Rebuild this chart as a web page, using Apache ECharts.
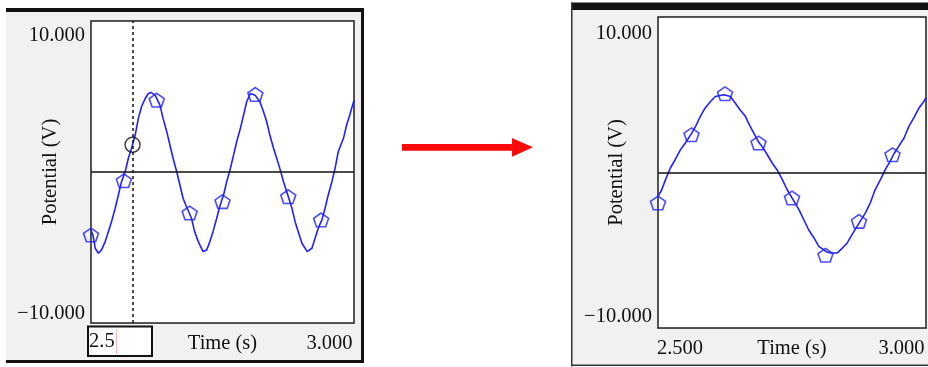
<!DOCTYPE html>
<html>
<head>
<meta charset="utf-8">
<script src="https://cdn.jsdelivr.net/npm/echarts@6.0.0/dist/echarts.min.js"></script>
<style>
html,body{margin:0;padding:0;background:#fff;}
#chart{width:928px;height:367px;}
</style>
</head>
<body>
<div id="chart"></div>
<script>
// ---- data ----
const xTickMin = 2.5, xTickMax = 3.0, xInterval = 0.1;
const yTickMin = -10, yTickMax = 10, yInterval = 5;
const yLabelMax = '10.000', yLabelMin = '\u221210.000';
const xLabelMin = '2.500', xLabelMax = '3.000';
const xName = 'Time (s)', yName = 'Potential (V)';
const inputText = '2.5';

const leftTime = [2.500,2.504,2.508,2.514,2.520,2.527,2.533,2.539,2.546,2.552,2.558,2.565,2.571,2.577,2.584,2.590,2.596,2.603,2.609,2.614,2.622,2.631,2.637,2.644,2.650,2.656,2.663,2.669,2.675,2.681,2.687,2.691,2.697,2.704,2.713,2.720,2.726,2.732,2.739,2.745,2.752,2.758,2.765,2.771,2.777,2.784,2.790,2.796,2.803,2.812,2.821,2.828,2.834,2.840,2.847,2.853,2.859,2.866,2.875,2.882,2.888,2.894,2.901,2.911,2.920,2.926,2.932,2.939,2.945,2.951,2.958,2.964,2.970,2.980,2.986,2.992,3.000];
const leftVolt = [-3.84,-4.23,-5.05,-5.38,-5.16,-4.61,-3.95,-3.29,-2.40,-1.52,-0.64,0.02,0.91,1.57,2.45,3.55,4.32,4.87,5.20,5.27,5.09,4.43,3.55,2.67,1.79,0.91,0.02,-0.86,-1.74,-2.25,-2.73,-3.06,-3.95,-4.61,-5.27,-5.16,-4.61,-3.95,-3.06,-2.25,-1.52,-0.64,0.24,1.12,2.00,2.89,3.77,4.65,5.20,5.09,4.65,3.99,3.33,2.45,1.57,0.91,0.24,-0.64,-1.63,-2.40,-3.29,-3.95,-4.72,-5.27,-5.05,-4.39,-3.72,-3.17,-2.40,-1.52,-0.64,0.24,1.34,2.23,3.11,3.77,4.76];
const leftMarkTime = [2.5,2.5625,2.625,2.6875,2.75,2.8125,2.875,2.9375];
const leftMarkVolt = [-4.17,-0.58,4.76,-2.71,-1.96,5.14,-1.63,-3.17];
const cursorTime = 2.579;
const cursorVolt = 1.8;

const rightTime = [2.500,2.507,2.514,2.523,2.532,2.542,2.551,2.562,2.570,2.579,2.588,2.598,2.607,2.623,2.635,2.644,2.653,2.663,2.672,2.688,2.694,2.704,2.713,2.722,2.732,2.741,2.747,2.763,2.772,2.781,2.791,2.800,2.814,2.822,2.834,2.844,2.853,2.862,2.876,2.887,2.896,2.905,2.915,2.924,2.933,2.940,2.949,2.959,2.968,2.977,2.987,2.996,3.000];
const rightVolt = [-1.54,-1.11,-0.46,0.29,0.82,1.47,1.90,2.48,2.96,3.61,4.15,4.57,4.89,5.00,4.89,4.47,4.04,3.61,2.96,1.94,1.68,1.14,0.61,0.18,-0.46,-1.11,-1.46,-2.39,-3.04,-3.68,-4.21,-4.75,-5.09,-5.18,-5.18,-4.86,-4.53,-4.00,-3.21,-2.60,-1.96,-1.11,-0.46,0.18,0.71,1.19,1.68,2.22,2.96,3.50,4.15,4.57,4.81];
const rightMarkTime = [2.5,2.5625,2.625,2.6875,2.75,2.8125,2.875,2.9375];
const rightMarkVolt = [-1.96,2.43,5.07,1.90,-1.64,-5.32,-3.14,1.14];

// ---- styling ----
const FONT = '"Liberation Serif","DejaVu Serif","Times New Roman",serif';
const FS = 20.5;
const TXT = '#111';
const BLUE = '#2020ff';
const GRIDC = '#d2d2d2';
const PENT = 'path://M50,0 L97.55,34.55 L79.39,90.45 L20.61,90.45 L2.45,34.55 Z';

const zip = (a, b) => a.map((t, i) => [t, b[i]]);

function yAxisFor(idx, padTop, padBot, gap) {
  return {
    type: 'value', gridIndex: idx, min: yTickMin, max: yTickMax, interval: yInterval,
    axisLine: {show: false}, axisTick: {show: false},
    splitLine: {show: true, lineStyle: {color: GRIDC, width: 1.5}},
    axisLabel: {
      margin: 6, color: TXT, fontFamily: FONT, fontSize: FS,
      formatter: v => v === yTickMax ? '{t|' + yLabelMax + '}' : (v === yTickMin ? '{b|' + yLabelMin + '}' : ''),
      rich: {
        t: {padding: [padTop, 0, 0, 0], fontFamily: FONT, fontSize: FS, color: TXT},
        b: {padding: [0, 0, padBot, 0], fontFamily: FONT, fontSize: FS, color: TXT}
      }
    },
    name: yName, nameLocation: 'middle', nameGap: gap, nameMoveOverlap: false,
    nameTextStyle: {fontFamily: FONT, fontSize: FS, color: TXT}
  };
}
function xAxisFor(idx, showMin) {
  return {
    type: 'value', gridIndex: idx, min: xTickMin, max: xTickMax, interval: xInterval,
    axisLine: {show: false}, axisTick: {show: false},
    splitLine: {show: true, lineStyle: {color: GRIDC, width: 1.5}},
    axisLabel: {
      margin: 10, color: TXT, fontFamily: FONT, fontSize: FS,
      formatter: v => Math.abs(v - xTickMax) < 1e-9 ? '{r|' + xLabelMax + '}' :
        (showMin && Math.abs(v - xTickMin) < 1e-9 ? '{l|' + xLabelMin + '}' : ''),
      rich: {
        r: {padding: [0, 49, 0, 0], fontFamily: FONT, fontSize: FS, color: TXT},
        l: {padding: [0, 0, 0, 44], fontFamily: FONT, fontSize: FS, color: TXT}
      }
    },
    name: xName, nameLocation: 'middle', nameGap: 10, nameMoveOverlap: false,
    nameTextStyle: {fontFamily: FONT, fontSize: FS, color: TXT, verticalAlign: 'top'}
  };
}
function zeroLine(extra) {
  const data = [{yAxis: 0, lineStyle: {color: '#111', width: 1.5, type: 'solid'}}];
  if (extra) data.push(extra);
  return {silent: true, symbol: 'none', label: {show: false}, animation: false, data: data};
}
const markerStyle = {color: 'rgba(0,0,0,0)', borderColor: BLUE, borderWidth: 1.6};

const chart = echarts.init(document.getElementById('chart'), null, {renderer: 'canvas'});
chart.setOption({
  animation: false,
  backgroundColor: '#fff',
  grid: [
    {left: 91, top: 21, width: 263, height: 302, show: true, backgroundColor: '#fff', borderColor: '#222', borderWidth: 1.5, z: 1,
     containLabel: false, outerBoundsMode: 'none'},
    {left: 658, top: 17, width: 268, height: 311, show: true, backgroundColor: '#fff', borderColor: '#222', borderWidth: 1.5, z: 1,
     containLabel: false, outerBoundsMode: 'none'}
  ],
  xAxis: [xAxisFor(0, false), xAxisFor(1, true)],
  yAxis: [yAxisFor(0, 30, 18, 30), yAxisFor(1, 34, 23, 31)],
  graphic: [
    // left panel frame
    {type: 'rect', z: -10, silent: true, shape: {x: 6, y: 8, width: 357, height: 354}, style: {fill: '#f0f1f0'}},
    {type: 'rect', z: -5, silent: true, shape: {x: 6, y: 8, width: 358, height: 4}, style: {fill: '#111'}},
    {type: 'rect', z: -5, silent: true, shape: {x: 361, y: 8, width: 3, height: 355}, style: {fill: '#111'}},
    {type: 'rect', z: -5, silent: true, shape: {x: 6, y: 360, width: 358, height: 3}, style: {fill: '#111'}},
    // right panel frame
    {type: 'rect', z: -10, silent: true, shape: {x: 572, y: 3, width: 356, height: 362}, style: {fill: '#f0f1f0'}},
    {type: 'rect', z: -5, silent: true, shape: {x: 571, y: 2.5, width: 357, height: 7.5}, style: {fill: '#111'}},
    {type: 'rect', z: -5, silent: true, shape: {x: 571, y: 2.5, width: 1.5, height: 364}, style: {fill: '#333'}},
    {type: 'rect', z: -5, silent: true, shape: {x: 571, y: 364.5, width: 357, height: 1.5}, style: {fill: '#333'}},
    // red arrow
    {type: 'polygon', z: 5, silent: true, shape: {points: [[402, 144], [512, 144], [512, 138], [533, 147.3], [512, 156.7], [512, 150.7], [402, 150.7]]}, style: {fill: '#ff0a0a'}},
    // input box
    {type: 'rect', z: 50, silent: true, shape: {x: 88, y: 326.5, width: 64, height: 29.5}, style: {fill: '#fff', stroke: '#111', lineWidth: 2}},
    {type: 'text', z: 51, silent: true, style: {x: 89, y: 342, text: inputText, font: FS + 'px ' + FONT, fill: TXT, verticalAlign: 'middle'}},
    {type: 'line', z: 51, silent: true, shape: {x1: 116.5, y1: 329, x2: 116.5, y2: 354}, style: {stroke: '#f5b8b8', lineWidth: 1}}
  ],
  series: [
    {type: 'line', xAxisIndex: 0, yAxisIndex: 0, data: zip(leftTime, leftVolt), showSymbol: false, smooth: false,
     lineStyle: {color: BLUE, width: 1.6}, z: 3,
     markLine: zeroLine({xAxis: cursorTime, lineStyle: {color: '#111', width: 1.5, type: [3, 3]}})},
    {type: 'scatter', xAxisIndex: 0, yAxisIndex: 0, data: zip(leftMarkTime, leftMarkVolt), symbol: PENT, symbolSize: [15, 14.3],
     symbolKeepAspect: true, itemStyle: markerStyle, z: 4},
    {type: 'scatter', xAxisIndex: 0, yAxisIndex: 0, data: [[cursorTime, cursorVolt]], symbol: 'circle', symbolSize: 15,
     itemStyle: {color: 'rgba(0,0,0,0)', borderColor: '#111', borderWidth: 1.5}, z: 5},
    {type: 'line', xAxisIndex: 1, yAxisIndex: 1, data: zip(rightTime, rightVolt), showSymbol: false, smooth: false,
     lineStyle: {color: BLUE, width: 1.6}, z: 3, markLine: zeroLine(null)},
    {type: 'scatter', xAxisIndex: 1, yAxisIndex: 1, data: zip(rightMarkTime, rightMarkVolt), symbol: PENT, symbolSize: [15, 14.3],
     symbolKeepAspect: true, itemStyle: markerStyle, z: 4}
  ]
});
</script>
</body>
</html>
